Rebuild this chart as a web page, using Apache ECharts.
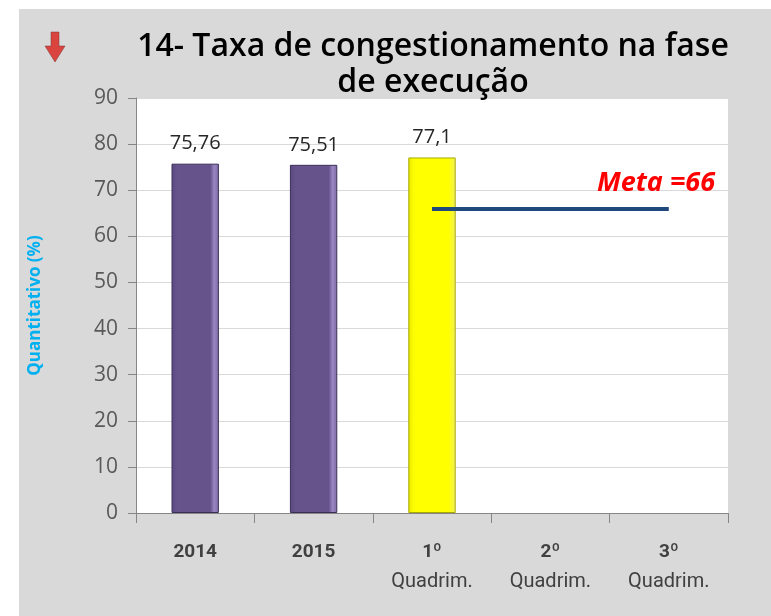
<!DOCTYPE html>
<html>
<head>
<meta charset="utf-8">
<script src="https://cdn.jsdelivr.net/npm/echarts@6/dist/echarts.min.js"></script>
<style>
  html, body { margin: 0; padding: 0; background: #fff; }
  #chart { width: 771px; height: 616px; }
</style>
</head>
<body>
<div id="chart"></div>
<script>
var categories = ['2014', '2015', '1º\nQuadrim.', '2º\nQuadrim.', '3º\nQuadrim.'];
var values = [75.76, 75.51, 77.1, null, null];
var meta = 66;
var yTicks = [0, 10, 20, 30, 40, 50, 60, 70, 80, 90];

var chartDom = document.getElementById('chart');
var chart = echarts.init(chartDom);

var purple = {
    type: 'linear', x: 0, y: 0, x2: 1, y2: 0,
    colorStops: [
        { offset: 0, color: '#5a4880' },
        { offset: 0.12, color: '#66538b' },
        { offset: 0.82, color: '#66538b' },
        { offset: 0.9, color: '#9a87c2' },
        { offset: 1, color: '#7c6aa3' }
    ]
};
var yellow = {
    type: 'linear', x: 0, y: 0, x2: 1, y2: 0,
    colorStops: [
        { offset: 0, color: '#e8e800' },
        { offset: 0.12, color: '#ffff00' },
        { offset: 0.85, color: '#ffff00' },
        { offset: 1, color: '#f0f060' }
    ]
};

var option = {
    backgroundColor: '#fff',
    animation: false,
    graphic: [
        {
            type: 'rect', left: 19, top: 9, z: -10,
            shape: { width: 752, height: 607 },
            style: { fill: '#d9d9d9' }
        },
        {
            // red down arrow
            type: 'polygon', z: 10,
            shape: { points: [[51, 32], [59, 32], [59, 46], [65, 46], [55, 62], [45, 46], [51, 46]] },
            style: { fill: '#d9443f', stroke: '#7a3535', lineWidth: 0.5 }
        },
        {
            type: 'text', left: 597, top: 170, z: 10,
            style: {
                text: 'Meta =66',
                fill: '#ff0000',
                font: 'italic bold 27px "Open Sans", sans-serif'
            }
        }
    ],
    title: {
        text: '14- Taxa de congestionamento na fase\nde execução',
        left: 428,
        textAlign: 'center',
        top: 24,
        textStyle: {
            fontFamily: 'Open Sans',
            fontSize: 32,
            fontWeight: 600,
            color: '#000',
            lineHeight: 36
        }
    },
    grid: {
        left: 136,
        right: 43,
        top: 98,
        bottom: 103,
        show: true,
        backgroundColor: '#fff',
        borderWidth: 0
    },
    xAxis: {
        type: 'category',
        data: categories,
        boundaryGap: true,
        axisLine: { lineStyle: { color: '#868686', width: 1 } },
        axisTick: { show: true, interval: 0, length: 10, lineStyle: { color: '#868686' } },
        axisLabel: {
            interval: 0,
            margin: 24,
            color: '#404040',
            fontSize: 18,
            lineHeight: 30,
            formatter: function (v) {
                var parts = v.split('\n');
                if (parts.length > 1) {
                    return '{b|' + parts[0] + '}\n{n|' + parts[1] + '}';
                }
                return '{b|' + v + '}';
            },
            rich: {
                b: { fontWeight: 'bold', fontSize: 19, color: '#404040', lineHeight: 30,
                     fontFamily: 'Roboto' },
                n: { fontWeight: 'normal', fontSize: 20, color: '#404040', lineHeight: 30,
                     fontFamily: 'Roboto' }
            }
        }
    },
    yAxis: {
        type: 'value',
        min: yTicks[0],
        max: yTicks[yTicks.length - 1],
        interval: 10,
        name: 'Quantitativo (%)',
        nameLocation: 'middle',
        nameGap: 92,
        nameTextStyle: {
            color: '#00b0f0',
            fontWeight: 'bold',
            fontSize: 17,
            fontFamily: 'Open Sans'
        },
        axisLine: { show: true, lineStyle: { color: '#868686' } },
        axisTick: { show: true, length: 8, lineStyle: { color: '#868686' } },
        axisLabel: {
            margin: 18,
            color: '#595959',
            fontFamily: 'Open Sans',
            fontSize: 21
        },
        splitLine: { lineStyle: { color: '#d9d9d9', width: 1 } }
    },
    series: [
        {
            type: 'bar',
            barWidth: '40%',
            data: values.map(function (v, i) {
                if (v === null) return null;
                return {
                    value: v,
                    itemStyle: i === 2
                        ? { color: yellow, borderColor: '#a8a800', borderWidth: 1 }
                        : { color: purple, borderColor: '#3b2f58', borderWidth: 1 }
                };
            }),
            label: {
                show: true,
                position: 'top',
                distance: 10,
                color: '#262626',
                fontFamily: 'Open Sans',
                fontSize: 20,
                formatter: function (p) {
                    return String(p.value).replace('.', ',');
                }
            },
            markLine: {
                silent: true,
                symbol: 'none',
                label: { show: false },
                lineStyle: { color: '#1f497d', width: 4, type: 'solid' },
                data: [[{ coord: [2, meta] }, { coord: [4, meta] }]]
            }
        }
    ]
};

chart.setOption(option);
</script>
</body>
</html>
